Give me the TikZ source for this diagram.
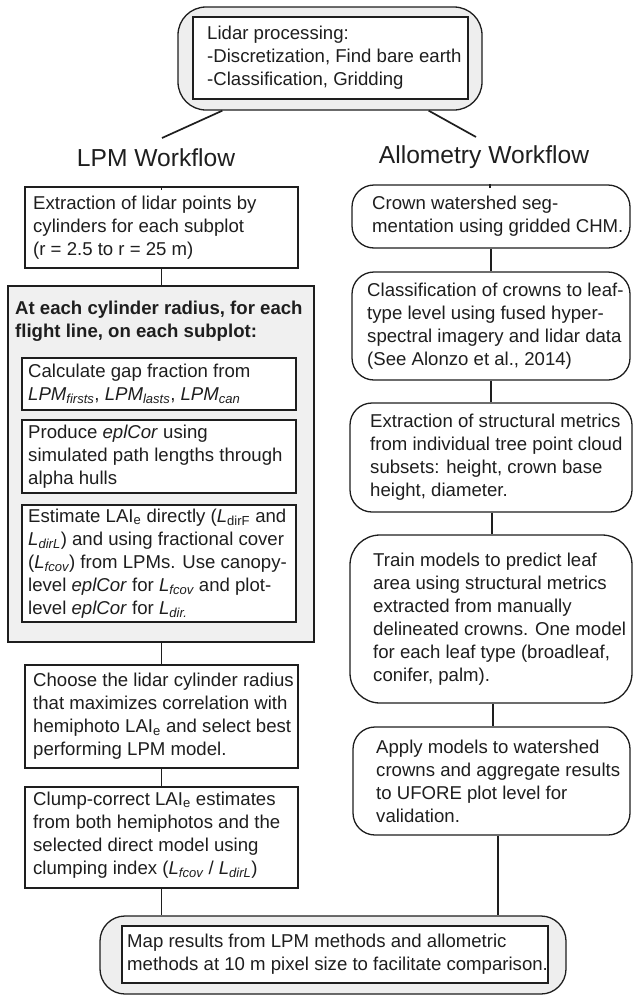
\documentclass[tikz,border=0pt]{standalone}
\usepackage{fontspec}
\setmainfont{Liberation Sans}
\usetikzlibrary{calc}
\definecolor{ink}{HTML}{1E1E1E}
\definecolor{pale}{HTML}{EEEEEE}
\definecolor{palebox}{HTML}{F0F0F0}
\tikzset{
  body/.style={font=\fontsize{18.6}{23}\selectfont, text=ink},
  sqbox/.style={draw=ink, line width=1.3pt, fill=white, rectangle, inner sep=0pt},
  rbox/.style={draw=ink, line width=1.3pt, fill=white, rectangle, rounded corners=22pt, inner sep=0pt},
  bigbox/.style={draw=ink, line width=2pt, fill=palebox, rectangle, inner sep=0pt},
  capbox/.style={draw=ink, line width=1.3pt, fill=pale, rectangle, rounded corners=28pt, inner sep=0pt},
  txt/.style={body, align=left, anchor=west, inner sep=0pt},
  ttl/.style={font=\fontsize{24.6}{28}\selectfont, text=ink, inner sep=0pt},
  conn/.style={draw=ink, line width=1.7pt},
}
\begin{document}
\begin{tikzpicture}[x=1pt,y=-1pt]
\useasboundingbox (0,0) rectangle (632,996);

% top box
\node[capbox, minimum width=304pt, minimum height=103pt] (top) at (330,58.5) {};
\node[sqbox, minimum width=275pt, minimum height=82pt] (topin) at (330.5,58) {};
\node[txt] (toptxt) at (207,58) {Lidar processing:\\-Discretization, Find bare earth\\-Classification, Gridding};

% titles
\node[ttl] (lpm) at (156,158) {LPM Workflow};
\node[ttl] (allo) at (484,157) {Allometry Workflow};
\coordinate (lpmend) at (162,138);
\coordinate (alloend) at (476,137);

\draw[conn] ([xshift=45pt]top.south west) -- (lpmend);
\draw[conn] ([xshift=-54pt]top.south east) -- (alloend);

% left column
\node[sqbox, minimum width=273pt, minimum height=81pt] (l1) at (161.5,227.5) {};
\node[txt] at (33,227.5) {Extraction of lidar points by\\cylinders for each subplot\\(r = 2.5 to r = 25 m)};

\node[bigbox, minimum width=306pt, minimum height=356pt] (grp) at (161,464) {};
\node[txt, font=\fontsize{18.6}{23}\selectfont\bfseries] (grptxt) at (15,321.5) {At each cylinder radius, for each\\flight line, on each subplot:};

\node[sqbox, minimum width=274pt, minimum height=52pt] (i1) at (159,384) {};
\node[txt] at (28,384) {Calculate gap fraction from\\\textit{LPM\textsubscript{firsts}}, \textit{LPM\textsubscript{lasts}}, \textit{LPM\textsubscript{can}}};

\node[sqbox, minimum width=274pt, minimum height=73pt] (i2) at (159,456.5) {};
\node[txt] at (28,456.5) {Produce \textit{eplCor} using\\simulated path lengths through\\alpha hulls};

\node[sqbox, minimum width=274pt, minimum height=117pt] (i3) at (159,563.5) {};
\node[txt] at (28,563.5) {Estimate LAI\textsubscript{e} directly (\textit{L}\textsubscript{dirF} and\\\textit{L\textsubscript{dirL}}) and using fractional cover\\(\textit{L\textsubscript{fcov}}) from LPMs. Use canopy-\\level \textit{eplCor} for \textit{L\textsubscript{fcov}} and plot-\\level \textit{eplCor} for \textit{L\textsubscript{dir.}}};

\node[sqbox, minimum width=273pt, minimum height=103pt] (l4) at (161.5,716.5) {};
\node[txt] at (33,716.5) {Choose the lidar cylinder radius\\that maximizes correlation with\\hemiphoto LAI\textsubscript{e} and select best\\performing LPM model.};

\node[sqbox, minimum width=273pt, minimum height=101pt] (l5) at (161.5,837.5) {};
\node[txt] at (33,835) {Clump-correct LAI\textsubscript{e} estimates\\from both hemiphotos and the\\selected direct model using\\clumping index (\textit{L\textsubscript{fcov}} / \textit{L\textsubscript{dirL}})};

% right column
\node[rbox, minimum width=278pt, minimum height=63pt] (r1) at (491,216.5) {};
\node[txt] at (372,216.5) {Crown watershed seg-\\mentation using gridded CHM.};

\node[rbox, minimum width=278pt, minimum height=108pt] (r2) at (491,326) {};
\node[txt] at (367,326) {Classification of crowns to leaf-\\type level using fused hyper-\\spectral imagery and lidar data\\(See Alonzo et al., 2014)};

\node[rbox, minimum width=282pt, minimum height=109pt] (r3) at (491,457.5) {};
\node[txt] at (370,457.5) {Extraction of structural metrics\\from individual tree point cloud\\subsets: height, crown base\\height, diameter.};

\node[rbox, rounded corners=30pt, minimum width=282pt, minimum height=168pt] (r4) at (491,619) {};
\node[txt] at (373,619) {Train models to predict leaf\\area using structural metrics\\extracted from manually\\delineated crowns. One model\\for each leaf type (broadleaf,\\conifer, palm).};

\node[rbox, minimum width=277pt, minimum height=108pt] (r5) at (491.5,781) {};
\node[txt] at (376,781) {Apply models to watershed\\crowns and aggregate results\\to UFORE plot level for\\validation.};

% bottom box
\node[capbox, rounded corners=25pt, minimum width=466pt, minimum height=78pt] (bot) at (333,955) {};
\node[sqbox, minimum width=426pt, minimum height=57pt] (botin) at (335,954.5) {};
\node[txt] at (127,954.5) {Map results from LPM methods and allometric\\methods at 10 m pixel size to facilitate comparison.};

% connectors
\draw[conn] (l1.north) -- ++(0,-4pt);
\draw[conn] ([xshift=-1pt]r1.north) -- ++(0,-4pt);
\draw[conn] (l1.south) -- (l1.south |- grp.north);
\draw[conn] (grp.south -| l4.north) -- (l4.north);
\draw[conn] (l4.south) -- (l5.north);
\draw[conn] (l5.south) -- (l5.south |- bot.north);
\draw[conn] (r1.south) -- (r2.north);
\draw[conn] (r2.south) -- (r3.north);
\draw[conn] ([xshift=1pt]r3.south) -- ([xshift=1pt]r4.north);
\draw[conn] ([xshift=2pt]r4.south) -- ([xshift=1.5pt]r5.north);
\draw[conn] ([xshift=6.5pt]r5.south) -- ([xshift=6.5pt]r5.south |- bot.north);
\end{tikzpicture}
\end{document}
